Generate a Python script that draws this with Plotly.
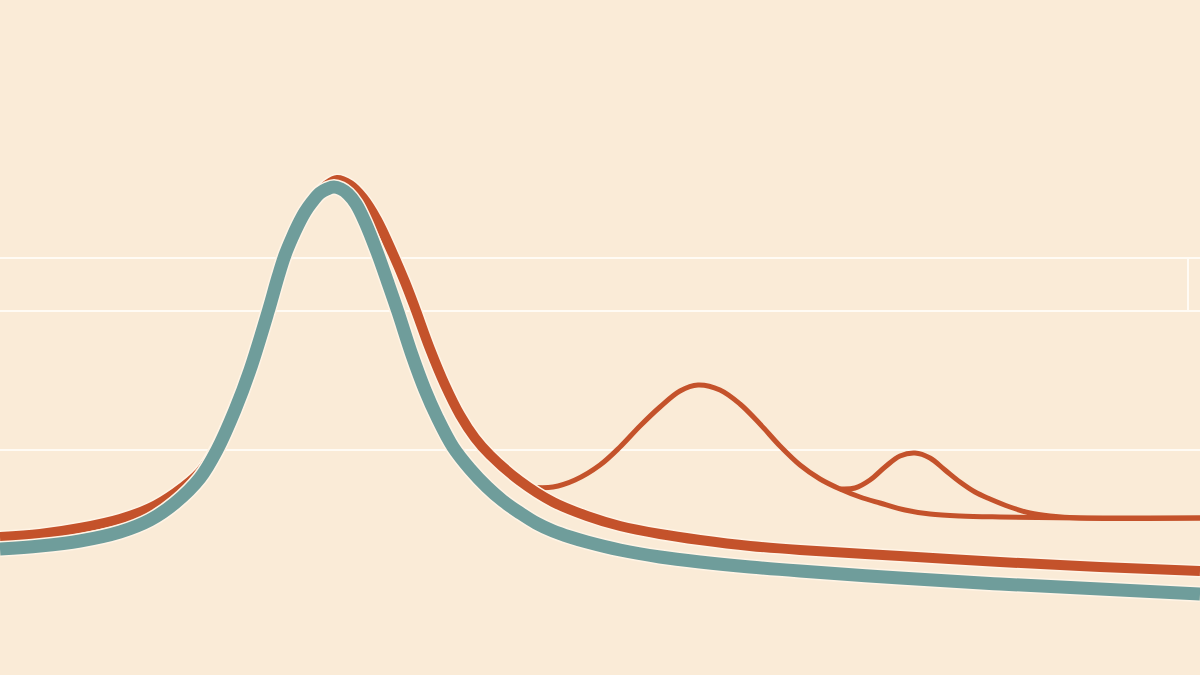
import plotly.graph_objects as go

# Data (x: horizontal units, y: height units from bottom)
teal_x = [0, 40, 80, 120, 150, 175, 200, 217, 235, 250, 268, 278, 285, 292, 298, 305, 312, 320, 327, 334, 341, 348, 356, 365, 377, 388, 398, 412, 425, 437, 453, 470, 487, 503, 520, 536, 553, 570, 587, 620, 660, 700, 750, 800, 900, 1000, 1100, 1200]
teal_y = [126, 129, 134, 143, 155, 172, 197, 225, 265, 305, 363, 398, 420, 437, 450, 463, 473, 482, 486, 488, 486, 481, 471, 453, 423, 392, 363, 320, 285, 258, 228, 206, 188, 174, 162, 152, 144, 138, 133, 125, 118, 113, 108, 104, 97, 91, 86, 81]

orange_x = [0, 40, 80, 120, 150, 175, 200, 217, 235, 250, 268, 285, 300, 315, 327, 337, 350, 363, 377, 393, 405, 415, 430, 445, 460, 475, 490, 520, 553, 587, 620, 660, 700, 750, 800, 900, 1000, 1100, 1200]
orange_y = [138, 141, 147, 156, 167, 182, 203, 229, 269, 308, 365, 421, 453, 478, 490, 495, 490, 477, 455, 421, 393, 367, 326, 290, 260, 237, 220, 194, 173, 159, 149, 141, 135, 129, 125, 119, 113, 108, 104]

wave1_x = [527, 553, 575, 600, 620, 640, 660, 680, 698, 720, 740, 760, 780, 800, 820, 840, 860, 880, 905, 930, 960, 1000, 1080, 1200]
wave1_y = [188, 188, 195, 210, 228, 249, 268, 284, 290, 285, 271, 251, 229, 210, 196, 186, 178, 172, 165, 161, 159, 158, 157, 157]

wave2_x = [840, 855, 870, 885, 900, 915, 930, 945, 960, 975, 990, 1010, 1030, 1050, 1080, 1200]
wave2_y = [186, 187, 195, 208, 219, 222, 217, 205, 193, 183, 176, 168, 162, 159, 157, 157]

grid_levels = [417, 364, 225]

BG = "#FAEBD7"
ORANGE = "#C4522B"
TEAL = "#6F9D9B"
GRID = "#FFFBF4"
HALO = "#FFF4E6"

fig = go.Figure()

def add_line(x, y, color, width, smooth=1.0):
    fig.add_trace(go.Scatter(x=x, y=y, mode="lines",
                             line=dict(color=color, width=width, shape="spline", smoothing=smooth),
                             hoverinfo="skip", showlegend=False))

add_line(wave2_x, wave2_y, ORANGE, 5)
add_line(wave1_x, wave1_y, ORANGE, 5)
add_line(orange_x, orange_y, HALO, 13)
add_line(orange_x, orange_y, ORANGE, 10)
add_line(teal_x, teal_y, HALO, 16)
add_line(teal_x, teal_y, TEAL, 13)

# small vertical tick at right between the upper grid lines
fig.add_shape(type="line", x0=1188, x1=1188, y0=grid_levels[1], y1=grid_levels[0],
              line=dict(color=GRID, width=2), layer="below")

fig.update_layout(
    width=1200, height=675,
    margin=dict(l=0, r=0, t=0, b=0),
    paper_bgcolor=BG, plot_bgcolor=BG,
    xaxis=dict(range=[0, 1200], visible=False, fixedrange=True),
    yaxis=dict(range=[0, 675], showticklabels=False, zeroline=False,
               tickvals=grid_levels, showgrid=True, gridcolor=GRID, gridwidth=2,
               fixedrange=True),
    showlegend=False,
)

fig.write_html(
    "out.html",
    config={"displayModeBar": False},
    post_script="document.body.style.margin='0px';document.body.style.background='" + BG + "';",
)
